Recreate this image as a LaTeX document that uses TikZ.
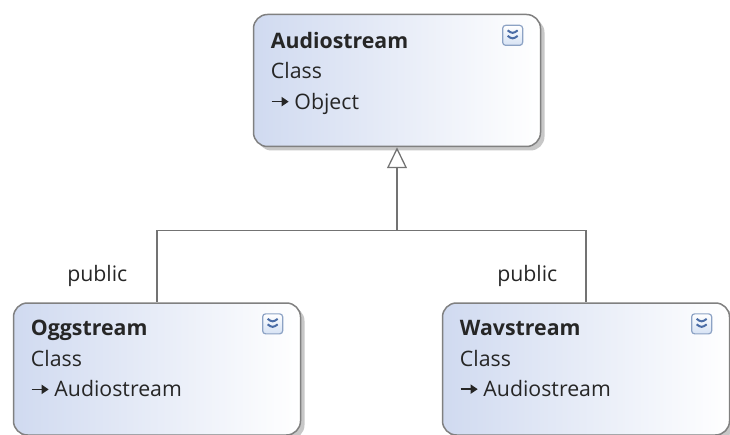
\documentclass[tikz,border=0pt]{standalone}
\usepackage{fontspec}
\setmainfont{Open Sans}
\usepackage{xcolor}
\usepackage{tikz}
\usetikzlibrary{arrows.meta,positioning,shadows}

\definecolor{boxblue}{RGB}{208,218,240}
\definecolor{btnblue}{RGB}{74,108,166}
\definecolor{btnedge}{RGB}{140,162,196}
\definecolor{btnfill}{RGB}{214,226,244}

\newcommand{\inharrow}{%
  \tikz[baseline=-7.5pt]\draw[line width=1.5pt, -{Triangle[length=7pt,width=9pt]}] (0,0) -- (17pt,0);\hspace{5pt}}

\begin{document}
\begin{tikzpicture}[
    classbox/.style={
        draw=black!50,
        line width=1.5pt,
        rounded corners=14pt,
        minimum width=287pt,
        minimum height=132pt,
        left color=boxblue,
        right color=white,
        drop shadow={shadow xshift=4pt, shadow yshift=-4pt, fill=black!22, opacity=1}
    },
    classtext/.style={
        align=left,
        inner sep=0pt,
        text=black!85,
        font=\fontsize{21.3}{30.5}\selectfont
    },
    btn/.style={
        draw=btnedge,
        line width=1.2pt,
        rounded corners=3pt,
        minimum size=20pt,
        inner sep=0pt,
        top color=white,
        bottom color=btnfill,
        path picture={
            \draw[btnblue, line width=2pt]
                ([shift={(-5pt,5pt)}]path picture bounding box.center) -- ++(5pt,-3.5pt) -- ++(5pt,3.5pt);
            \draw[btnblue, line width=2pt]
                ([shift={(-5pt,-0.5pt)}]path picture bounding box.center) -- ++(5pt,-3.5pt) -- ++(5pt,3.5pt);
        }
    },
    pub/.style={
        inner sep=0pt,
        text=black!85,
        font=\fontsize{21.3}{24}\selectfont
    },
    conn/.style={
        draw=black!55,
        line width=1.3pt
    }
]

\useasboundingbox (0,0) rectangle (730pt,-435pt);

% classes
\node[classbox] (audio) at (397pt,-80.5pt) {};
\node[classbox, below=155pt of audio, xshift=-240pt] (ogg) {};
\node[classbox, below=155pt of audio, xshift=189pt] (wav) {};

\node[classtext, below right=18pt and 18pt of audio.north west] (audio-text) {
\textbf{Audiostream}\\
Class\\
\inharrow Object
};
\node[classtext, below right=18pt and 18pt of ogg.north west] (ogg-text) {
\textbf{Oggstream}\\
Class\\
\inharrow Audiostream
};
\node[classtext, below right=18pt and 18pt of wav.north west] (wav-text) {
\textbf{Wavstream}\\
Class\\
\inharrow Audiostream
};

\node[btn, below left=11pt and 18pt of audio.north east] (audio-btn) {};
\node[btn, below left=11pt and 18pt of ogg.north east] (ogg-btn) {};
\node[btn, below left=11pt and 18pt of wav.north east] (wav-btn) {};

% inheritance
\coordinate (join) at ([yshift=-83pt]audio.south);
\draw[conn] (join) -| (ogg.north)
    node[pub, pos=0.82, left=29pt] {public};
\draw[conn] (join) -| (wav.north)
    node[pub, pos=0.82, left=28pt] {public};
\draw[conn, -{Triangle[open, length=21pt, width=20pt]}] (join) -- (audio.south);

\end{tikzpicture}
\end{document}
